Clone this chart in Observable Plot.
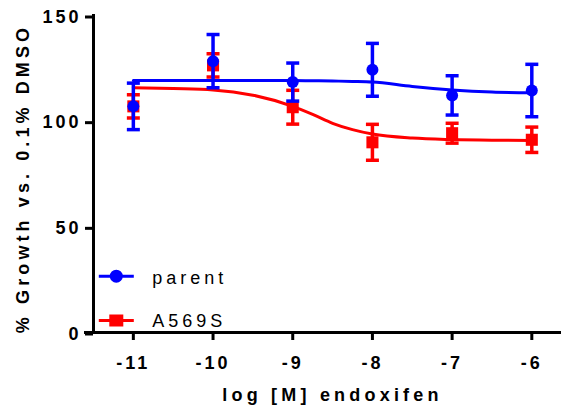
<!DOCTYPE html>
<html>
<head>
<meta charset="utf-8">
<script src="https://cdn.jsdelivr.net/npm/d3@7"></script>
<script src="https://cdn.jsdelivr.net/npm/@observablehq/plot@0.6"></script>
<style>
  html, body { margin: 0; padding: 0; background: #fff; }
  #chart { width: 561px; height: 408px; }
</style>
</head>
<body>
<div id="chart"></div>
<script>
// ---- data ----
const xTicks = [-11, -10, -9, -8, -7, -6];
const yTicks = [0, 50, 100, 150];
const logConc = [-11, -10, -9, -8, -7, -6];
const parentMean = [107, 128.4, 118.5, 124.3, 112.2, 114.5];
const parentErr  = [11, 12.6, 9, 12.5, 9.3, 12.4];
const a569sMean  = [107, 126.4, 106.6, 90, 94.3, 91.2];
const a569sErr   = [5.5, 5.5, 8, 8.5, 4.7, 6];
// fitted curves
const fitX      = [-11, -10.5, -10, -9.5, -9, -8.75, -8.5, -8.25, -8, -7.5, -7, -6.5, -6];
const parentFit = [119.3, 119.3, 119.3, 119.3, 119.2, 119.1, 119, 118.8, 118.5, 116.4, 114.8, 113.8, 113.4];
const a569sFit  = [115.8, 115.4, 114.8, 112.3, 107, 103.2, 99, 96, 93.9, 92, 91.3, 91, 90.9];
const seriesNames = ["parent", "A569S"];
const xTitle = "log [M] endoxifen";
const yTitle = "% Growth vs. 0.1% DMSO";

const BLUE = "#0000ff", RED = "#ff0000";

const pts = (means, errs) => logConc.map((x, i) => ({x, y: means[i], lo: means[i] - errs[i], hi: means[i] + errs[i]}));
const fit = (ys) => fitX.map((x, i) => ({x, y: ys[i]}));
const parentPts = pts(parentMean, parentErr);
const a569sPts = pts(a569sMean, a569sErr);

const cap = {draw(ctx) { ctx.moveTo(-6.5, 0); ctx.lineTo(6.5, 0); }};
const legCircle = {draw(ctx) { ctx.moveTo(-17.5, 0); ctx.lineTo(17.5, 0); ctx.moveTo(5, 0); ctx.arc(0, 0, 5, 0, 2 * Math.PI); }};
const legSquare = {draw(ctx) { ctx.moveTo(-17.5, 0); ctx.lineTo(17.5, 0); ctx.rect(-5.5, -4.5, 11, 9); }};

function seriesMarks(data, fitData, color, symbol, r) {
  return [
    Plot.line(fitData, {x: "x", y: "y", stroke: color, strokeWidth: 3, curve: "monotone-x"}),
    Plot.ruleX(data, {x: "x", y1: "lo", y2: "hi", stroke: color, strokeWidth: 3.5}),
    Plot.dot(data, {x: "x", y: "lo", symbol: cap, fill: "none", stroke: color, strokeWidth: 3.5, r: 5}),
    Plot.dot(data, {x: "x", y: "hi", symbol: cap, fill: "none", stroke: color, strokeWidth: 3.5, r: 5}),
    Plot.dot(data, {x: "x", y: "y", symbol, fill: color, r})
  ];
}

const chart = Plot.plot({
  width: 561,
  height: 408,
  marginTop: 15,
  marginBottom: 76,
  marginLeft: 93,
  marginRight: 1,
  x: {domain: [-11.5, -5.64]},
  y: {domain: [0, 150]},
  style: {fontFamily: "'Liberation Sans', Arial, sans-serif", background: "#fff", color: "#000", overflow: "visible"},
  marks: [
    Plot.frame({anchor: "left", stroke: "#000", strokeWidth: 3, strokeLinecap: "square"}),
    Plot.frame({anchor: "bottom", stroke: "#000", strokeWidth: 3, insetLeft: -8}),
    Plot.axisY({ticks: yTicks, tickSize: 8, tickPadding: 4, fontSize: 18, fontWeight: "bold", strokeWidth: 3, label: null, tickFormat: d => String(d), dy: 1.5}),
    Plot.axisX({ticks: xTicks, tickSize: 8, tickPadding: 16, fontSize: 18, fontWeight: "bold", strokeWidth: 3, label: null, tickFormat: d => String(d)}),
    ...seriesMarks(a569sPts, fit(a569sFit), RED, "square", 6.8),
    ...seriesMarks(parentPts, fit(parentFit), BLUE, "circle", 6),
    // legend
    Plot.dot([seriesNames[0]], {frameAnchor: "bottom-left", dx: 22.8, dy: -56.3, symbol: legCircle, fill: BLUE, stroke: BLUE, strokeWidth: 3, r: 5}),
    Plot.dot([seriesNames[1]], {frameAnchor: "bottom-left", dx: 22.8, dy: -12, symbol: legSquare, fill: RED, stroke: RED, strokeWidth: 3, r: 5}),
    Plot.text([seriesNames[0]], {text: d => d, frameAnchor: "bottom-left", dx: 58.7, dy: -54.5, textAnchor: "start", lineAnchor: "middle", fontSize: 18, fontWeight: "normal", fill: "#000"}),
    Plot.text([seriesNames[1]], {text: d => d, frameAnchor: "bottom-left", dx: 58.7, dy: -11, textAnchor: "start", lineAnchor: "middle", fontSize: 18, fontWeight: "normal", fill: "#000"}),
    // titles
    Plot.text([xTitle], {text: d => d, frameAnchor: "bottom", dx: 5.5, dy: 63, textAnchor: "middle", lineAnchor: "middle", fontSize: 18, fontWeight: "bold", fill: "#000"}),
    Plot.text([yTitle], {text: d => d, frameAnchor: "left", dx: -69.8, dy: 4.5, rotate: -90, textAnchor: "middle", lineAnchor: "middle", fontSize: 18, fontWeight: "bold", fill: "#000"})
  ]
});

document.getElementById("chart").appendChild(chart);

// letter spacing like the reference
chart.querySelectorAll('g[aria-label="y-axis tick label"], g[aria-label="x-axis tick label"]').forEach(g => g.setAttribute("letter-spacing", "3"));
chart.querySelectorAll("text").forEach(t => {
  const s = t.textContent;
  if (s === xTitle) t.setAttribute("letter-spacing", "4.2");
  else if (s === yTitle) t.setAttribute("letter-spacing", "4.1");
  else if (seriesNames.includes(s)) t.setAttribute("letter-spacing", "4");
});
</script>
</body>
</html>
